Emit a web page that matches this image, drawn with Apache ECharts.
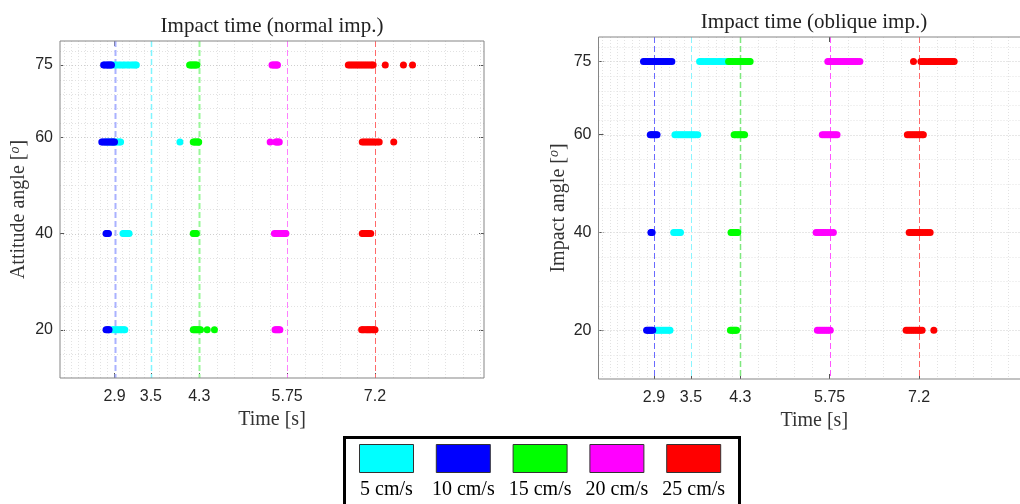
<!DOCTYPE html>
<html><head><meta charset="utf-8">
<script src="https://cdn.jsdelivr.net/npm/echarts@6/dist/echarts.min.js"></script>
<style>html,body{margin:0;padding:0;background:#fff}#c{width:1020px;height:504px}</style>
</head><body><div id="c"></div>
<script>
// ---------------- data ----------------
const speeds = ['5 cm/s', '10 cm/s', '15 cm/s', '20 cm/s', '25 cm/s'];
const xTicks = [2.9, 3.5, 4.3, 5.75, 7.2];
const yTicks = [20, 40, 60, 75];
const refTimes = [2.9, 3.5, 4.3, 5.75, 7.2];
const yMinorGrid = [15, 25, 30, 35, 45, 50, 55, 63, 66, 69, 72, 78];
const xMinorGrid = [2.06, 2.18, 2.30, 2.42, 2.54, 2.66, 2.78, 3.02, 3.14, 3.26, 3.38,
  3.63, 3.77, 3.90, 4.03, 4.17, 4.59, 4.88, 5.17, 5.46, 6.04, 6.33, 6.62, 6.91,
  7.49, 7.78, 8.07, 8.36, 8.65, 8.94];

// Normal impact: impact times [s] per attitude angle row
const normal5  = {20: [2.86,2.89,2.92,2.94,2.97,3.00,3.02,3.05,3.07],
                  40: [3.04,3.06,3.09,3.11,3.14],
                  59: [2.76,2.80,2.84,2.88,2.92,2.95,2.98,3.00,3.98],
                  75: [2.86,2.90,2.93,2.97,3.00,3.04,3.07,3.11,3.14,3.18,3.21,3.24,3.26]};
const normal10 = {20: [2.76,2.78,2.80,2.81],
                  40: [2.76,2.78,2.80],
                  59: [2.69,2.71,2.74,2.76,2.79,2.81,2.84,2.86,2.88,2.90],
                  75: [2.72,2.74,2.77,2.79,2.81,2.83,2.85]};
const normal15 = {20: [4.20,4.22,4.24,4.26,4.28,4.30,4.32,4.43,4.55],
                  40: [4.20,4.22,4.24,4.25],
                  59: [4.20,4.22,4.24,4.26,4.28,4.29],
                  75: [4.14,4.16,4.18,4.20,4.22,4.24,4.26]};
const normal20 = {20: [5.55,5.57,5.59,5.61,5.63],
                  40: [5.54,5.57,5.60,5.63,5.66,5.69,5.71,5.73],
                  59: [5.47,5.56,5.58,5.60,5.62],
                  75: [5.50,5.52,5.54,5.56,5.58,5.59]};
const normal25 = {20: [6.98,7.00,7.02,7.05,7.07,7.09,7.11,7.13,7.16,7.18,7.20],
                  40: [6.99,7.01,7.03,7.06,7.08,7.10,7.13],
                  59: [6.99,7.02,7.05,7.08,7.11,7.14,7.17,7.20,7.24,7.27,7.51],
                  75: [6.76,6.79,6.82,6.85,6.88,6.91,6.94,6.97,7.00,7.03,7.06,7.09,7.12,7.15,7.17,7.37,7.67,7.82]};

// Oblique impact: impact times [s] per impact angle row
const oblique5  = {20: [2.93,2.96,2.99,3.02,3.05,3.08,3.11,3.14,3.16],
                   40: [3.22,3.25,3.28,3.31,3.33],
                   60: [3.24,3.27,3.30,3.33,3.36,3.39,3.42,3.45,3.48,3.51,3.54,3.57,3.61],
                   75: [3.64,3.67,3.70,3.74,3.77,3.80,3.84,3.87,3.90,3.94,3.97,4.00,4.04,4.07,4.10]};
const oblique10 = {20: [2.78,2.80,2.82,2.84,2.86,2.88],
                   40: [2.85,2.87],
                   60: [2.84,2.86,2.88,2.90,2.93,2.95],
                   75: [2.73,2.76,2.79,2.82,2.85,2.88,2.91,2.94,2.97,3.00,3.03,3.06,3.09,3.12,3.15,3.19]};
const oblique15 = {20: [4.14,4.16,4.18,4.20,4.22,4.24],
                   40: [4.15,4.17,4.19,4.22,4.24,4.26],
                   60: [4.20,4.22,4.25,4.27,4.30,4.32,4.35,4.37],
                   75: [4.11,4.14,4.17,4.20,4.23,4.26,4.29,4.32,4.35,4.38,4.41,4.44,4.46]};
const oblique20 = {20: [5.55,5.58,5.61,5.64,5.67,5.70,5.73,5.76],
                   40: [5.53,5.56,5.59,5.62,5.65,5.68,5.72,5.76,5.81],
                   60: [5.63,5.66,5.69,5.72,5.75,5.78,5.81,5.84,5.87],
                   75: [5.72,5.75,5.78,5.81,5.84,5.87,5.90,5.93,5.96,5.99,6.02,6.05,6.08,6.11,6.14,6.17,6.20,6.24]};
const oblique25 = {20: [6.99,7.02,7.05,7.08,7.11,7.14,7.17,7.20,7.22,7.25,7.44],
                   40: [7.04,7.07,7.10,7.13,7.16,7.19,7.22,7.26,7.30,7.34,7.38],
                   60: [7.01,7.04,7.07,7.10,7.13,7.16,7.19,7.22,7.25,7.27],
                   75: [7.11,7.23,7.26,7.29,7.32,7.35,7.38,7.41,7.44,7.47,7.50,7.53,7.56,7.59,7.62,7.65,7.68,7.71,7.74,7.77]};

const normalSets = [normal5, normal10, normal15, normal20, normal25];
const obliqueSets = [oblique5, oblique10, oblique15, oblique20, oblique25];

// ---------------- styles ----------------
const colors = ['#00ffff', '#0000ff', '#00ff00', '#ff00ff', '#ff0000'];
const refStyleL = [
  {stroke: '#aab2ff', lineWidth: 2},
  {stroke: '#7ff5ff', lineWidth: 1.5},
  {stroke: '#99f799', lineWidth: 2},
  {stroke: '#ff80ff', lineWidth: 1},
  {stroke: '#ff6a6a', lineWidth: 1}
];
const refStyleR = [
  {stroke: '#6a6aff', lineWidth: 1},
  {stroke: '#8af5ff', lineWidth: 1},
  {stroke: '#7fe87f', lineWidth: 1.5},
  {stroke: '#ff55ff', lineWidth: 1},
  {stroke: '#ff6a6a', lineWidth: 1}
];
const serif = 'Liberation Serif';
const sans = 'Liberation Sans';

function toPairs(obj) {
  const out = [];
  Object.keys(obj).forEach(k => obj[k].forEach(t => out.push([t, Number(k)])));
  return out;
}

function vLines(idx, values, styleFn, z) {
  return {
    type: 'custom', xAxisIndex: idx, yAxisIndex: idx, silent: true, z: z,
    data: values.map(v => [v, 45]),
    encode: {x: 0, y: 1},
    renderItem(params, api) {
      const cs = params.coordSys;
      const x = Math.round(api.coord([api.value(0), 45])[0]) + 0.5;
      return {type: 'line', shape: {x1: x, y1: cs.y, x2: x, y2: cs.y + cs.height},
        style: styleFn(params.dataIndex)};
    }
  };
}
function hLines(idx, values, styleFn, z) {
  return {
    type: 'custom', xAxisIndex: idx, yAxisIndex: idx, silent: true, z: z,
    data: values.map(v => [5, v]),
    encode: {x: 0, y: 1},
    renderItem(params, api) {
      const cs = params.coordSys;
      const y = Math.round(api.coord([5, api.value(1)])[1]) + 0.5;
      return {type: 'line', shape: {x1: cs.x, y1: y, x2: cs.x + cs.width, y2: y},
        style: styleFn(params.dataIndex)};
    }
  };
}
const minorStyle = () => ({stroke: '#e2e2e2', lineWidth: 1, lineDash: [1, 2]});
const majorStyle = () => ({stroke: '#cfcfcf', lineWidth: 1, lineDash: [1, 2]});

function xAx(idx, pos, showLabel, name) {
  return {
    type: 'value', gridIndex: idx, min: 2, max: 9, position: pos,
    name: name, nameLocation: 'middle', nameGap: 30,
    nameTextStyle: {fontFamily: serif, fontSize: 20, color: '#333'},
    axisLine: {show: false},
    splitLine: {show: false},
    axisTick: {show: true, inside: true, length: 5, customValues: xTicks,
      lineStyle: {color: '#555'}},
    axisLabel: {show: showLabel, customValues: xTicks, margin: 11,
      fontFamily: sans, fontSize: 16, color: '#262626'}
  };
}
function yAx(idx, pos, showLabel, name, gap) {
  return {
    type: 'value', gridIndex: idx, min: 10, max: 80, position: pos,
    name: name, nameLocation: 'middle', nameGap: gap, nameRotate: 90,
    nameTextStyle: {fontFamily: serif, fontSize: 20, color: '#333',
      rich: {o: {fontFamily: serif, fontSize: 14, fontStyle: 'italic', color: '#333', padding: [0, 0, 8, 0]}}},
    axisLine: {show: false},
    splitLine: {show: false},
    axisTick: {show: true, inside: true, length: 5, customValues: yTicks,
      lineStyle: {color: '#555'}},
    axisLabel: {show: showLabel, customValues: yTicks, margin: 7,
      fontFamily: sans, fontSize: 16, color: '#262626'}
  };
}

const series = [];
[0, 1].forEach(idx => {
  series.push(vLines(idx, xMinorGrid, minorStyle, 1));
  series.push(hLines(idx, yMinorGrid, minorStyle, 1));
  series.push(hLines(idx, yTicks, majorStyle, 1));
  const rs = idx === 0 ? refStyleL : refStyleR;
  series.push(vLines(idx, refTimes, i => Object.assign({lineDash: [6, 3]}, rs[i]), 2));
  const sets = idx === 0 ? normalSets : obliqueSets;
  sets.forEach((s, i) => {
    series.push({
      type: 'scatter', name: speeds[i], xAxisIndex: idx, yAxisIndex: idx,
      data: toPairs(s), symbol: 'circle', symbolSize: 7,
      itemStyle: {color: colors[i], opacity: 1}, z: 3 + i, silent: true, animation: false
    });
  });
});

// legend graphics
const legendItems = [];
legendItems.push({type: 'rect', left: 343, top: 436, shape: {width: 395, height: 80},
  style: {fill: '#fff', stroke: '#000', lineWidth: 3}, z: 100});
speeds.forEach((name, i) => {
  const x0 = 359.5 + i * 76.8;
  legendItems.push({type: 'rect', x: x0, y: 444.5, shape: {width: 54, height: 28},
    style: {fill: colors[i], stroke: '#333', lineWidth: 1}, z: 101});
  legendItems.push({type: 'text', x: x0 + 27, y: 490,
    style: {text: name, fill: '#000', font: '20px "' + serif + '"', textAlign: 'center', textVerticalAlign: 'middle'}, z: 101});
});
// titles
legendItems.push({type: 'text', x: 272, y: 26, style: {text: 'Impact time (normal imp.)', fill: '#222',
  font: '21px "' + serif + '"', textAlign: 'center', textVerticalAlign: 'middle'}, z: 100});
legendItems.push({type: 'text', x: 814, y: 22, style: {text: 'Impact time (oblique imp.)', fill: '#222',
  font: '21px "' + serif + '"', textAlign: 'center', textVerticalAlign: 'middle'}, z: 100});

const chart = echarts.init(document.getElementById('c'), null, {renderer: 'canvas'});
chart.setOption({
  animation: false,
  backgroundColor: '#fff',
  grid: [
    {left: 60, top: 41, width: 424, height: 337, show: true, borderColor: '#858585', borderWidth: 1,
     backgroundColor: 'transparent', z: 10, outerBoundsMode: 'none', containLabel: false},
    {left: 598.5, top: 37, width: 431.5, height: 342, show: true, borderColor: '#858585', borderWidth: 1,
     backgroundColor: 'transparent', z: 10, outerBoundsMode: 'none', containLabel: false}
  ],
  xAxis: [xAx(0, 'bottom', true, 'Time [s]'), xAx(1, 'bottom', true, 'Time [s]'),
          xAx(0, 'top', false, ''), xAx(1, 'top', false, '')],
  yAxis: [yAx(0, 'left', true, 'Attitude angle [{o|o}]', 30), yAx(1, 'left', true, 'Impact angle [{o|o}]', 29),
          yAx(0, 'right', false, '', 0)],
  series: series,
  graphic: legendItems
});
</script></body></html>
